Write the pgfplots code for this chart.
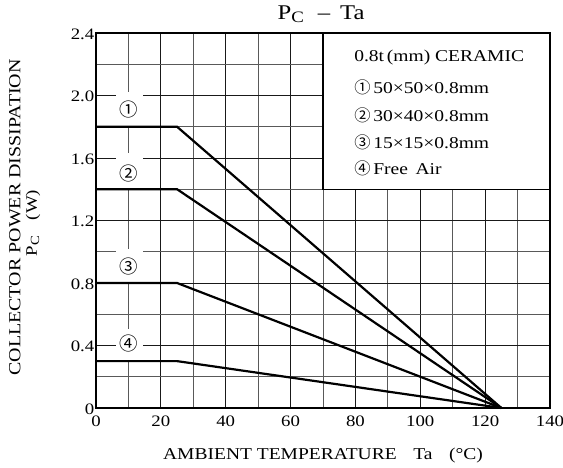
\documentclass[border=0pt]{standalone}
\usepackage{fontspec}
\setmainfont[FakeStretch=1.18]{Liberation Serif}
\newfontfamily\cjk{Noto Sans CJK JP}
\usepackage{pgfplots}
\pgfplotsset{compat=1.18}
\newcommand{\cn}[1]{{\cjk #1}}
\newcommand{\fs}[1]{\fontsize{#1}{#1}\selectfont}
\begin{document}
\begin{tikzpicture}[x=1bp,y=1bp]
\begin{axis}[
  scale only axis, width=454bp, height=375bp,
  xmin=0, xmax=140, ymin=0, ymax=2.4,
  xtick={0,20,40,60,80,100,120,140},
  ytick={0,0.4,0.8,1.2,1.6,2.0,2.4},
  yticklabels={0,0.4,0.8,1.2,1.6,2.0,2.4},
  minor xtick={10,30,50,70,90,110,130},
  minor ytick={0.2,0.6,1.0,1.4,1.8,2.2},
  grid=both,
  major grid style={black!90, line width=0.8bp},
  minor grid style={black!65, line width=0.8bp},
  tick style={draw=none},
  axis line style={line width=1.6bp},
  ticklabel style={font=\fs{16}},
  /pgf/number format/assume math mode=true,
  yticklabel style={inner sep=1.5bp, yshift=-1bp},
  xticklabel style={inner sep=2bp, yshift=-6bp},
  clip=false,
]
% white boxes behind curve labels
\fill[white] (axis cs:6.2,1.8) rectangle (axis cs:14.5,2.02);
\fill[white] (axis cs:6.2,1.4) rectangle (axis cs:14.5,1.63);
\fill[white] (axis cs:6.2,0.8) rectangle (axis cs:14.5,1.02);
\fill[white] (axis cs:6.2,0.3) rectangle (axis cs:14.5,0.505);
% legend box
\draw[fill=white, line width=1.4bp] (axis cs:70,1.4) rectangle (axis cs:140,2.4);
\addplot[black, line width=2.2bp] coordinates {(0,1.8) (25,1.8) (125,0)};
\addplot[black, line width=2.2bp] coordinates {(0,1.4) (25,1.4) (125,0)};
\addplot[black, line width=2.2bp] coordinates {(0,0.8) (25,0.8) (125,0)};
\addplot[black, line width=2.2bp] coordinates {(0,0.3) (25,0.3) (125,0)};
\node[font=\fs{18.5}] at (axis cs:10,1.91) {\cn{①}};
\node[font=\fs{18.5}] at (axis cs:10,1.50) {\cn{②}};
\node[font=\fs{18.5}] at (axis cs:10,0.905) {\cn{③}};
\node[font=\fs{18.5}] at (axis cs:10,0.41) {\cn{④}};
\begin{scope}[every node/.style={anchor=west, font=\fs{16.6}, inner sep=0pt}]
\node at (axis cs:79.6,2.24) {0.8t\,(mm) CERAMIC};
\node at (axis cs:79.6,2.055) {{\fs{16.3}\cn{①}}\,50×50×0.8mm};
\node at (axis cs:79.6,1.875) {{\fs{16.3}\cn{②}}\,30×40×0.8mm};
\node at (axis cs:79.6,1.70) {{\fs{16.3}\cn{③}}\,15×15×0.8mm};
\node at (axis cs:79.6,1.535) {{\fs{16.3}\cn{④}}\,Free\, Air};
\end{scope}
\end{axis}
% title and axis labels (pixel-based placement: X = px-96, Y = 408-py)
\node[font=\fs{21}] at (225,394) {P\raisebox{-0.3ex}{\fs{16}C}\hspace{14bp}–\hspace{10bp}Ta};
\node[font=\fs{16.6}] at (227,-47.5) {AMBIENT TEMPERATURE\quad Ta\quad (°C)};
\node[rotate=90, font=\fs{17}] at (-81,190.5) {COLLECTOR POWER DISSIPATION};
\node[rotate=90, font=\fs{16}] at (-63,185) {P\raisebox{-0.3ex}{\fs{12.5}C}\quad(W)};
\pgfresetboundingbox
\path[use as bounding box] (-96,-60) rectangle (467,408);
\end{tikzpicture}
\end{document}
